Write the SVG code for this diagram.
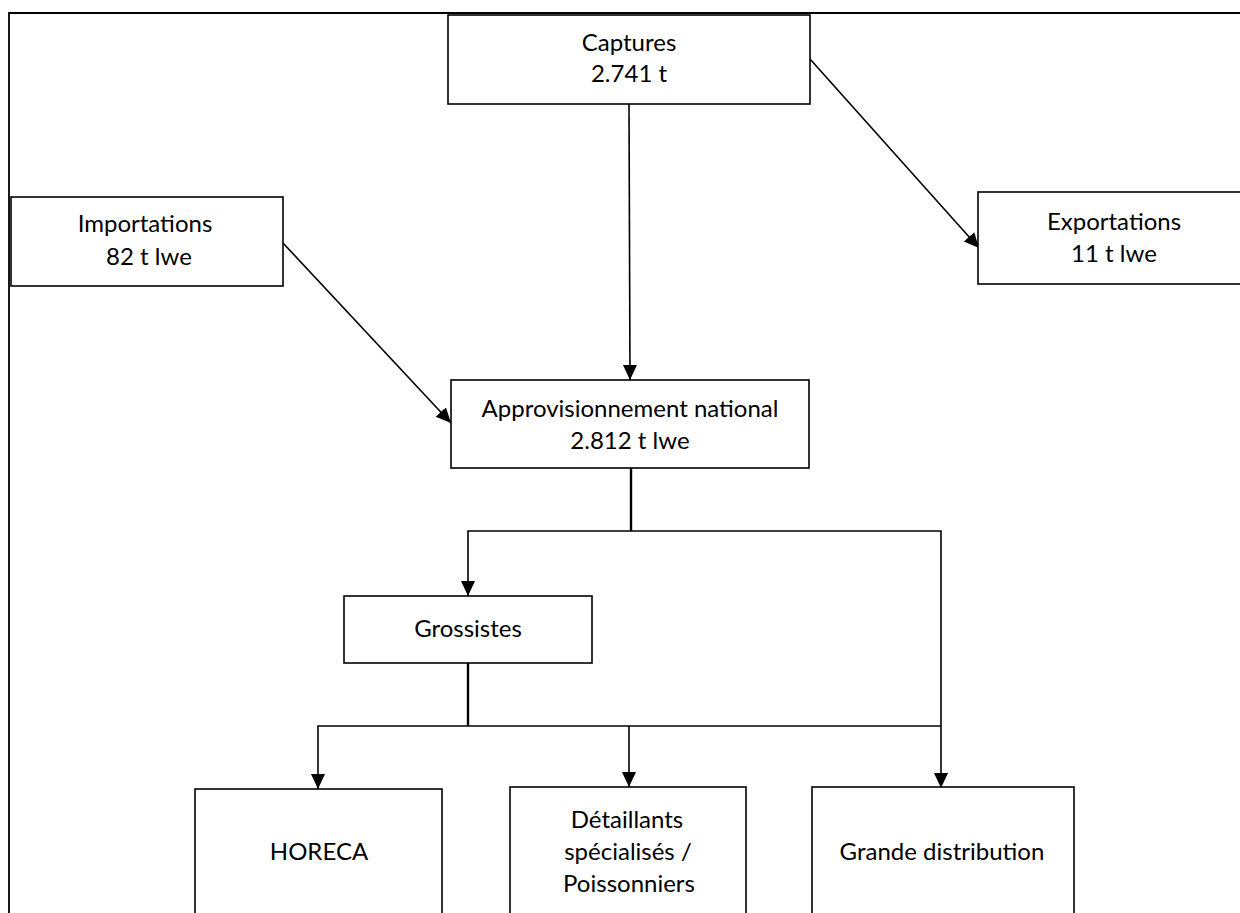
<svg xmlns="http://www.w3.org/2000/svg" width="1240" height="913" viewBox="0 0 1240 913">
<style>
.box{fill:#fff;stroke:#000;stroke-width:1.6}
.t{font-family:Lato,"Liberation Sans",sans-serif;font-size:24px;fill:#000;text-anchor:middle}
.c{fill:none;stroke:#000;stroke-width:1.6}
.ct{fill:none;stroke:#000;stroke-width:2.4}
</style>
<defs>
<marker id="arr" markerUnits="userSpaceOnUse" markerWidth="16" markerHeight="15" refX="15" refY="7" orient="auto">
<path d="M0,0 L15,7 L0,14 z" fill="#000"/>
</marker>
</defs>
<rect width="1240" height="913" fill="#fff"/>
<path d="M9,930 L9,13 L1250,13" fill="none" stroke="#000" stroke-width="1.8"/>
<g id="connectors">
<line class="c" x1="629" y1="104" x2="630" y2="380" marker-end="url(#arr)"/>
<line class="c" x1="810" y1="59" x2="979" y2="248" marker-end="url(#arr)"/>
<line class="c" x1="283" y1="243" x2="451" y2="423" marker-end="url(#arr)"/>
<path class="ct" d="M631,468 L631,531"/>
<path class="c" d="M631,531 L468,531 L468,596" marker-end="url(#arr)"/>
<path class="c" d="M631,531 L941,531 L941,788" marker-end="url(#arr)"/>
<path class="ct" d="M468,663 L468,726"/>
<path class="c" d="M468,726 L318,726 L318,789" marker-end="url(#arr)"/>
<path class="c" d="M468,726 L941,726"/>
<path class="c" d="M629,726 L629,787" marker-end="url(#arr)"/>
</g>
<g id="captures">
<rect class="box" x="448" y="15" width="362" height="89"/>
<text class="t" x="629" y="51">Captures</text>
<text class="t" x="629" y="82">2.741 t</text>
</g>
<g id="importations">
<rect class="box" x="11" y="197" width="272" height="89"/>
<text class="t" x="145" y="232">Importations</text>
<text class="t" x="149" y="265">82 t lwe</text>
</g>
<g id="exportations">
<rect class="box" x="978" y="192" width="280" height="92"/>
<text class="t" x="1114" y="230">Exportations</text>
<text class="t" x="1114" y="262">11 t lwe</text>
</g>
<g id="approvisionnement">
<rect class="box" x="451" y="380" width="358" height="88"/>
<text class="t" x="630" y="417">Approvisionnement national</text>
<text class="t" x="630" y="449">2.812 t lwe</text>
</g>
<g id="grossistes">
<rect class="box" x="344" y="596" width="248" height="67"/>
<text class="t" x="468" y="637">Grossistes</text>
</g>
<g id="horeca">
<rect class="box" x="195" y="789" width="247" height="150"/>
<text class="t" x="319" y="860">HORECA</text>
</g>
<g id="detaillants">
<rect class="box" x="510" y="787" width="236" height="150"/>
<text class="t" x="627" y="828">Détaillants</text>
<text class="t" x="628" y="860">spécialisés /</text>
<text class="t" x="629" y="892">Poissonniers</text>
</g>
<g id="grande">
<rect class="box" x="812" y="787" width="262" height="150"/>
<text class="t" x="942" y="860">Grande distribution</text>
</g>
</svg>
